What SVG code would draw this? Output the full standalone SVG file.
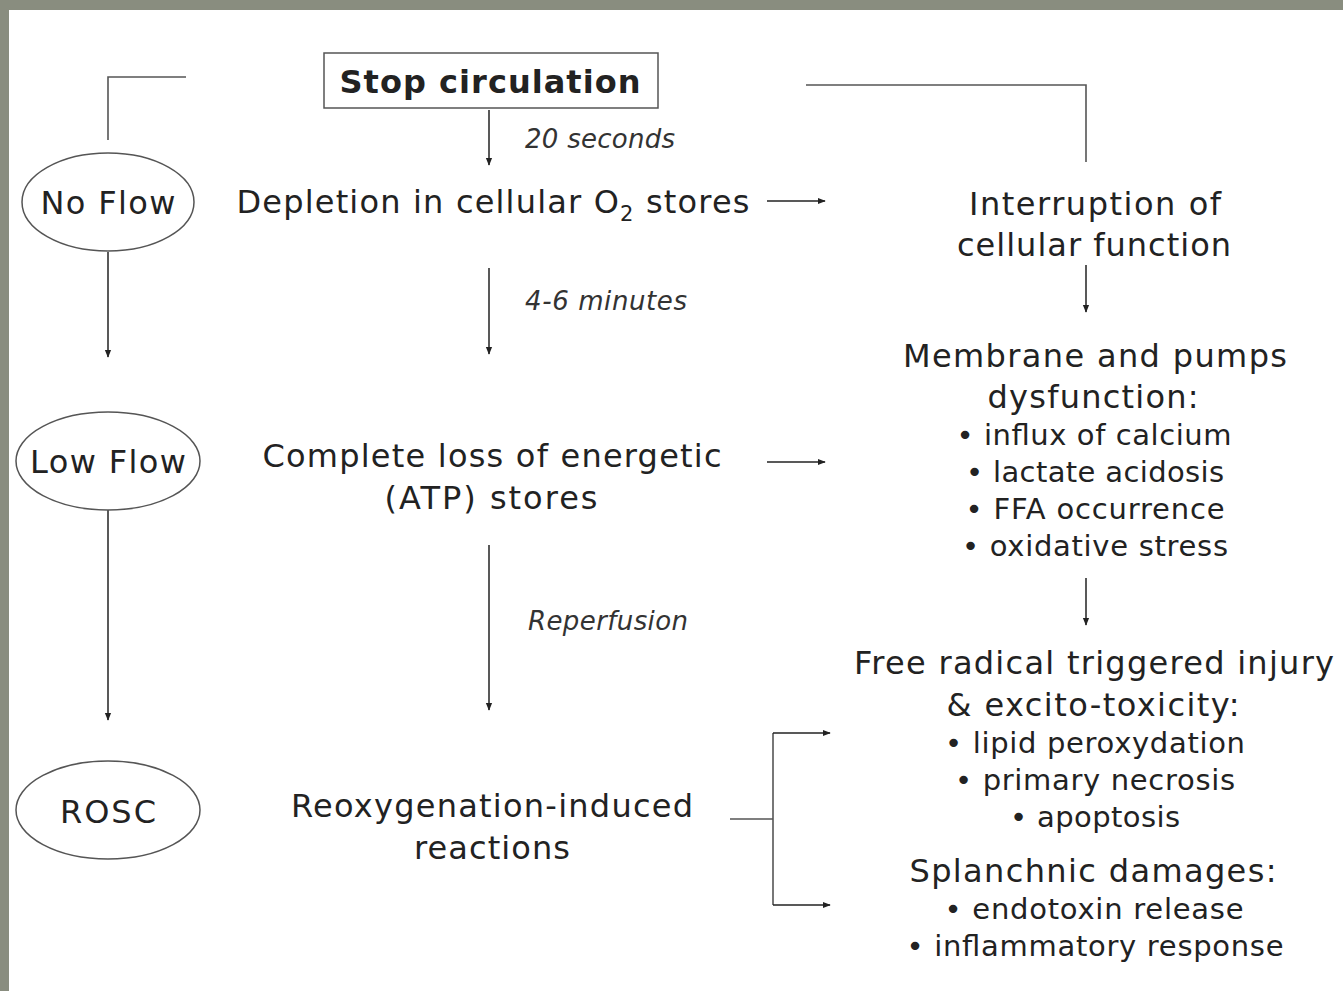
<svg xmlns="http://www.w3.org/2000/svg" width="1343" height="991" viewBox="0 0 1343 991">
<style>
text{font-family:"DejaVu Sans",Verdana,sans-serif;fill:#222;text-anchor:middle}
.m{font-size:32px}
.b{font-size:29px}
.i{font-size:26px;font-style:italic;text-anchor:start;fill:#333}
.ln{stroke:#555;stroke-width:1.6;fill:none}
.ar{stroke:#222;stroke-width:1.5;fill:none;marker-end:url(#ah)}
.el{fill:#fff;stroke:#555;stroke-width:1.5}
</style>
<defs>
<marker id="ah" viewBox="0 0 10 10" refX="9" refY="5" markerWidth="8" markerHeight="8" markerUnits="userSpaceOnUse" orient="auto"><path d="M0,1 L10,5 L0,9 Z" fill="#222"/></marker>
</defs>
<rect x="0" y="0" width="1343" height="991" fill="#898d7f"/>
<rect x="9" y="10" width="1334" height="981" fill="#fff"/>
<g id="connectors">
<path class="ln" d="M108,140 V77 H186"/>
<path class="ln" d="M806,85 H1086 V162"/>
<path class="ar" d="M489,110 V165"/>
<path class="ar" d="M767,201 H825"/>
<path class="ar" d="M1086,265 V312"/>
<path class="ar" d="M108,252 V357"/>
<path class="ar" d="M489,268 V354"/>
<path class="ar" d="M1086,578 V625"/>
<path class="ar" d="M767,462 H825"/>
<path class="ar" d="M108,510 V720"/>
<path class="ar" d="M489,545 V710"/>
<path class="ln" d="M730,819 H773"/>
<path class="ln" d="M773,733 V905"/>
<path class="ar" d="M773,733 H830"/>
<path class="ar" d="M773,905 H830"/>
<text class="i" x="525" y="148" textLength="150" lengthAdjust="spacing">20 seconds</text>
<text class="i" x="525" y="310" textLength="162" lengthAdjust="spacing">4-6 minutes</text>
<text class="i" x="528" y="630" textLength="160" lengthAdjust="spacing">Reperfusion</text>
</g>
<g id="stop">
<rect x="324" y="53" width="334" height="55" fill="#fff" stroke="#555" stroke-width="1.5"/>
<text x="490" y="93" style="font-size:32px;font-weight:bold" textLength="301" lengthAdjust="spacing">Stop circulation</text>
</g>
<g id="noflow">
<ellipse class="el" cx="108" cy="202" rx="86" ry="49"/>
<text class="m" x="108" y="214" textLength="135" lengthAdjust="spacing">No Flow</text>
</g>
<g id="lowflow">
<ellipse class="el" cx="108" cy="461" rx="92" ry="49"/>
<text class="m" x="108" y="473" textLength="156" lengthAdjust="spacing">Low Flow</text>
</g>
<g id="rosc">
<ellipse class="el" cx="108" cy="810" rx="92" ry="49"/>
<text class="m" x="108" y="823" textLength="96" lengthAdjust="spacing">ROSC</text>
</g>
<g id="depletion">
<text class="m" x="493" y="213" textLength="513" lengthAdjust="spacing">Depletion in cellular O<tspan font-size="21" dy="8">2</tspan><tspan dy="-8"> stores</tspan></text>
</g>
<g id="interruption">
<text class="m" x="1095" y="215" textLength="252" lengthAdjust="spacing">Interruption of</text>
<text class="m" x="1094" y="256" textLength="274" lengthAdjust="spacing">cellular function</text>
</g>
<g id="membrane">
<text class="m" x="1095" y="367" textLength="384" lengthAdjust="spacing">Membrane and pumps</text>
<text class="m" x="1093" y="408" textLength="211" lengthAdjust="spacing">dysfunction:</text>
<text class="b" x="1094" y="445" textLength="275" lengthAdjust="spacing">• influx of calcium</text>
<text class="b" x="1095" y="482" textLength="258" lengthAdjust="spacing">• lactate acidosis</text>
<text class="b" x="1095" y="519" textLength="259" lengthAdjust="spacing">• FFA occurrence</text>
<text class="b" x="1095" y="556" textLength="266" lengthAdjust="spacing">• oxidative stress</text>
</g>
<g id="complete">
<text class="m" x="492" y="467" textLength="459" lengthAdjust="spacing">Complete loss of energetic</text>
<text class="m" x="491" y="509" textLength="213" lengthAdjust="spacing">(ATP) stores</text>
</g>
<g id="freeradical">
<text class="m" x="1094" y="674" textLength="480" lengthAdjust="spacing">Free radical triggered injury</text>
<text class="m" x="1093" y="716" textLength="293" lengthAdjust="spacing">&amp; excito-toxicity:</text>
<text class="b" x="1095" y="753" textLength="300" lengthAdjust="spacing">• lipid peroxydation</text>
<text class="b" x="1095" y="790" textLength="280" lengthAdjust="spacing">• primary necrosis</text>
<text class="b" x="1095" y="827" textLength="170" lengthAdjust="spacing">• apoptosis</text>
</g>
<g id="splanchnic">
<text class="m" x="1093" y="882" textLength="367" lengthAdjust="spacing">Splanchnic damages:</text>
<text class="b" x="1094" y="919" textLength="299" lengthAdjust="spacing">• endotoxin release</text>
<text class="b" x="1095" y="956" textLength="377" lengthAdjust="spacing">• inflammatory response</text>
</g>
<g id="reoxygenation">
<text class="m" x="492" y="817" textLength="402" lengthAdjust="spacing">Reoxygenation-induced</text>
<text class="m" x="492" y="859" textLength="156" lengthAdjust="spacing">reactions</text>
</g>
</svg>
